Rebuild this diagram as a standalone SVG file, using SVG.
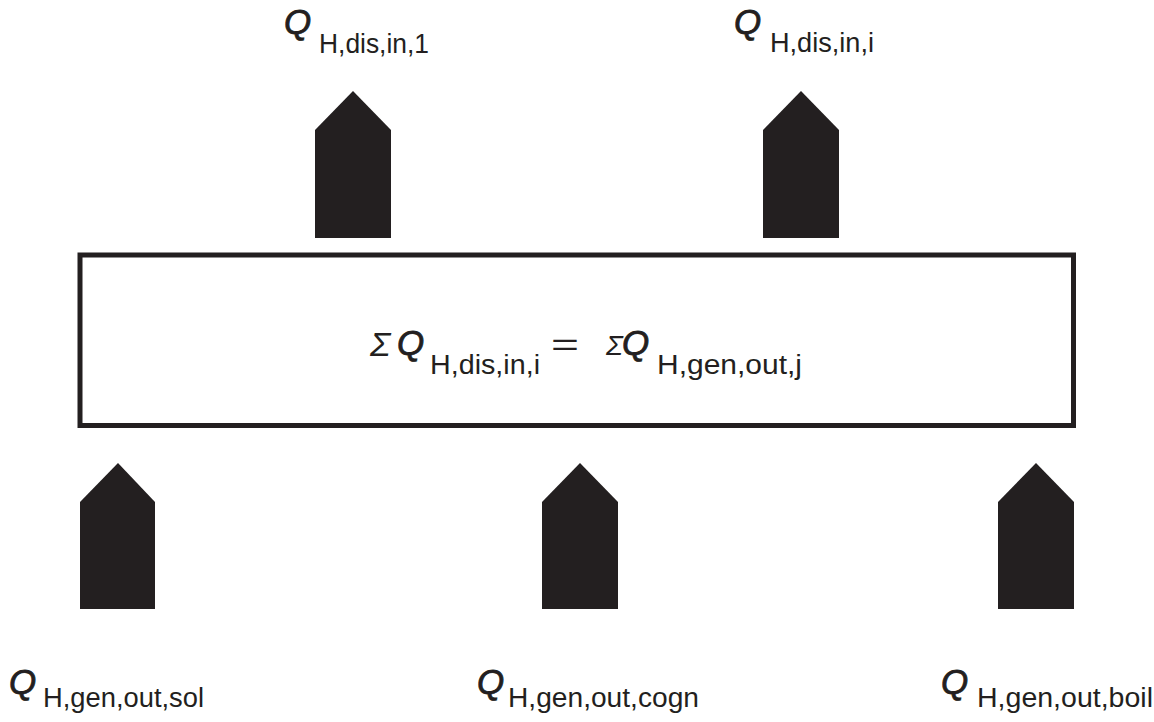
<svg xmlns="http://www.w3.org/2000/svg" width="1154" height="722" viewBox="0 0 1154 722">
<style>
.arr{fill:#231f20;}
.box{fill:#fff;stroke:#231f20;stroke-width:5;}
.q{font-family:"Liberation Sans",Arial,sans-serif;font-style:italic;font-size:35px;fill:#231f20;stroke:#231f20;stroke-width:0.8;}
.sub{font-family:"Liberation Sans",Arial,sans-serif;font-size:27px;fill:#231f20;}
.sig{font-family:"Liberation Sans",Arial,sans-serif;font-style:italic;font-size:34px;fill:#231f20;}
.eq{font-family:"Liberation Sans",Arial,sans-serif;font-size:32px;fill:#231f20;}
</style>
<rect width="1154" height="722" fill="#fff"/>
<g id="balance">
<rect class="box" x="80" y="255" width="993.5" height="170.5"/>
<text class="sig" x="370" y="356">Σ</text>
<text class="q" x="397" y="355">Q</text>
<text class="sub" x="430" y="374" textLength="110" lengthAdjust="spacingAndGlyphs">H,dis,in,i</text>
<text class="eq" x="551" y="355" textLength="28" lengthAdjust="spacingAndGlyphs">=</text>
<text class="sig" x="606" y="355" style="font-size:28px">Σ</text>
<text class="q" x="622" y="355">Q</text>
<text class="sub" x="657" y="374" textLength="145" lengthAdjust="spacingAndGlyphs">H,gen,out,j</text>
</g>
<g id="connectors">
<polygon class="arr" points="315,238 315,130 353,91 391,130 391,238"/>
<polygon class="arr" points="763,238 763,130 801,91 839,130 839,238"/>
<polygon class="arr" points="80,609 80,502 118,463 155,502 155,609"/>
<polygon class="arr" points="542,609 542,502 580,463 618,502 618,609"/>
<polygon class="arr" points="998,609 998,502 1036,463 1074,502 1074,609"/>
</g>
<g id="out1">
<text class="q" x="284" y="34">Q</text>
<text class="sub" x="319" y="53" textLength="110" lengthAdjust="spacingAndGlyphs">H,dis,in,1</text>
</g>
<g id="outi">
<text class="q" x="734" y="34">Q</text>
<text class="sub" x="770" y="52" textLength="104" lengthAdjust="spacingAndGlyphs">H,dis,in,i</text>
</g>
<g id="gen-sol">
<text class="q" x="9" y="694">Q</text>
<text class="sub" x="43" y="707" textLength="161" lengthAdjust="spacingAndGlyphs">H,gen,out,sol</text>
</g>
<g id="gen-cogn">
<text class="q" x="477" y="694">Q</text>
<text class="sub" x="508" y="707" textLength="191" lengthAdjust="spacingAndGlyphs">H,gen,out,cogn</text>
</g>
<g id="gen-boil">
<text class="q" x="941" y="694">Q</text>
<text class="sub" x="977" y="707" textLength="176" lengthAdjust="spacingAndGlyphs">H,gen,out,boil</text>
</g>
</svg>
